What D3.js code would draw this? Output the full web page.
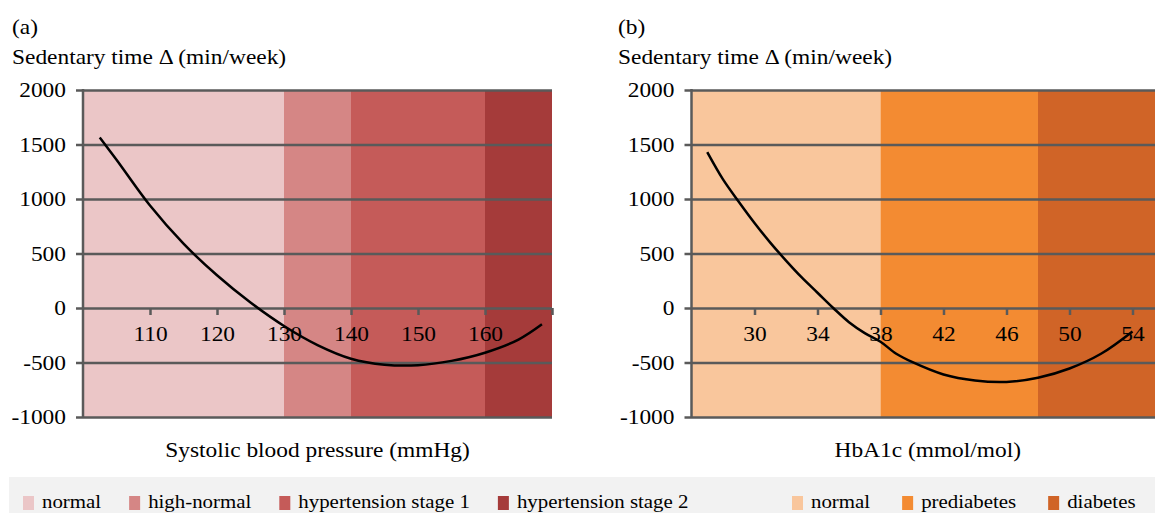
<!DOCTYPE html>
<html><head><meta charset="utf-8">
<script src="https://cdn.jsdelivr.net/npm/d3@7"></script>
<style>
body{margin:0;background:#fff}
svg{display:block}
text{font-family:"Liberation Serif","Times New Roman",serif;fill:#000}
</style>
</head><body>
<svg id="chart" width="1155" height="513"></svg>
<script>
// ---- data ----
const sbpLevels = [102.5,105,110,115,120,125,130,135,140,145,150,155,160,165,168.5];
const sbpDelta  = [1565,1360,940,590,300,50,-165,-340,-465,-520,-525,-485,-410,-290,-150];
const hbaLevels = [27,28,29,30,31,32,33,34,35,36,37,38,39,40,42,44,46,48,50,52,54];
const hbaDelta  = [1430,1180,975,780,600,435,280,140,0,-130,-230,-310,-420,-495,-610,-665,-678,-640,-555,-420,-215];
const yTicks = [-1000,-500,0,500,1000,1500,2000];
const sbpTicks = [110,120,130,140,150,160,170];
const sbpTickLabels = ["110","120","130","140","150","160",""];
const hbaTicks = [30,34,38,42,46,50,54];
const hbaTickLabels = ["30","34","38","42","46","50","54"];
const sbpZones = ["normal","high-normal","hypertension stage 1","hypertension stage 2"];
const sbpBounds = [100,130,140,160,170];
const hbaZones = ["normal","prediabetes","diabetes"];
const hbaBounds = [26,38,48,56];
const sbpColors = ["#EBC6C7","#D58685","#C55B59","#A53B3A"];
const hbaColors = ["#F9C69C","#F38B32","#D06427"];
const panelLetters = ["(a)","(b)"];
const yTitle = "Sedentary time \u0394 (min/week)";
const xTitles = ["Systolic blood pressure (mmHg)","HbA1c (mmol/mol)"];

// ---- layout ----
const SX = 1.17;
const GRID = "#5a5a5a";
const svg = d3.select("#chart");
const plotTop = 90, plotBottom = 417;
const y = d3.scaleLinear().domain([-1000,2000]).range([plotBottom, plotTop]);

function panel(cfg){
  const x = d3.scaleLinear().domain([cfg.bounds[0], cfg.bounds[cfg.bounds.length-1]]).range([cfg.left, cfg.right]);
  const g = svg.append("g");
  g.selectAll("rect.zone").data(cfg.zones).join("rect")
    .attr("x",(d,i)=>x(cfg.bounds[i]))
    .attr("width",(d,i)=>x(cfg.bounds[i+1])-x(cfg.bounds[i]))
    .attr("y",y(2000)).attr("height",y(-1000)-y(2000))
    .attr("fill",(d,i)=>cfg.colors[i]);
  const size = cfg.right - cfg.left + 7;
  const ya = g.append("g").attr("transform",`translate(${cfg.right},0)`)
    .call(d3.axisLeft(y).tickValues(yTicks).tickSize(size).tickPadding(10).tickFormat(d=>String(d)));
  ya.select(".domain").remove();
  ya.selectAll(".tick line").attr("stroke",GRID).attr("stroke-width",2.5);
  ya.selectAll(".tick text").attr("x",null).attr("dy","0.34em")
    .attr("transform",`translate(${-(size+10)},0) scale(${SX},1)`)
    .attr("font-size",20).attr("font-family",'"Liberation Serif",serif').attr("fill","#000");
  g.append("line").attr("x1",x.range()[0]).attr("x2",x.range()[0])
    .attr("y1",y(2000)-1).attr("y2",y(-1000)+1).attr("stroke",GRID).attr("stroke-width",2.5);
  const xa = g.append("g").attr("transform",`translate(0,${y(0)})`)
    .call(d3.axisBottom(x).tickValues(cfg.ticks).tickSize(7).tickFormat((d,i)=>cfg.tickLabels[i]));
  xa.select(".domain").remove();
  xa.selectAll(".tick line").attr("stroke",GRID).attr("stroke-width",2.5);
  xa.selectAll(".tick text").attr("y",33).attr("dy",null)
    .attr("transform",`scale(${SX},1)`)
    .attr("font-size",20).attr("font-family",'"Liberation Serif",serif').attr("fill","#000");
  g.append("text").attr("transform",`translate(${cfg.titleX},34) scale(${SX},1)`).attr("font-size",20).text(cfg.letter);
  g.append("text").attr("transform",`translate(${cfg.titleX},64) scale(${SX},1)`).attr("font-size",20).text(yTitle);
  g.append("text").attr("transform",`translate(${(cfg.left+cfg.right)/2},457) scale(${SX},1)`)
    .attr("text-anchor","middle").attr("font-size",20).text(cfg.xTitle);
  const pts = cfg.xs.map((v,i)=>[v,cfg.ys[i]]);
  g.append("path").datum(pts)
    .attr("d",d3.line().x(d=>x(d[0])).y(d=>y(d[1])).curve(d3.curveCatmullRom))
    .attr("fill","none").attr("stroke","#000").attr("stroke-width",2.5);
}

panel({left:83,right:552,bounds:sbpBounds,zones:sbpZones,colors:sbpColors,ticks:sbpTicks,tickLabels:sbpTickLabels,
  letter:panelLetters[0],xTitle:xTitles[0],titleX:12,xs:sbpLevels,ys:sbpDelta});
panel({left:691.5,right:1164,bounds:hbaBounds,zones:hbaZones,colors:hbaColors,ticks:hbaTicks,tickLabels:hbaTickLabels,
  letter:panelLetters[1],xTitle:xTitles[1],titleX:618,xs:hbaLevels,ys:hbaDelta});

svg.append("rect").attr("x",9).attr("y",477).attr("width",1146).attr("height",36).attr("fill","#f2f2f2");
const LSX = 1.16;
function legend(names, colors, startX, gap){
  let cx = startX;
  names.forEach((n,i)=>{
    const lg = svg.append("g");
    lg.append("rect").attr("x",cx).attr("y",496).attr("width",11).attr("height",14).attr("fill",colors[i]);
    const t = lg.append("text").attr("transform",`translate(${cx+19},508) scale(${LSX},1)`).attr("font-size",18).text(n);
    const w = t.node().getComputedTextLength()*LSX;
    cx = cx + 19 + w + gap;
  });
}
legend(sbpZones, sbpColors, 23, 28);
legend(hbaZones, hbaColors, 792, 32);
</script>
</body></html>
